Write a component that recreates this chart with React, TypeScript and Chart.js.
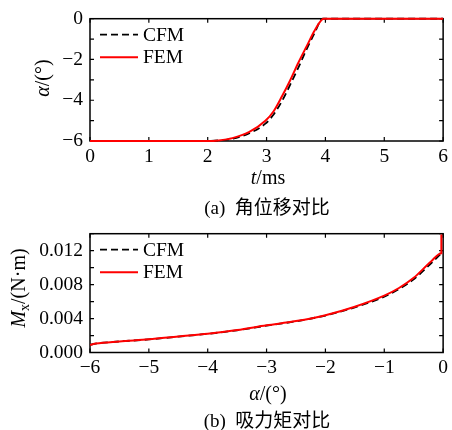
import React, { useEffect, useRef } from 'react';
import { Chart, registerables } from 'chart.js';

Chart.register(...registerables);

const SERIF = "'Liberation Serif', 'Times New Roman', serif";
const CAPTION_FONT = "'Liberation Serif', 'Noto Sans CJK SC', serif";

// ---- (a) angular displacement vs time ----
const SERIES_LABELS = ['CFM', 'FEM'];
const A_T_CFM = [0, 1, 2.0, 2.2, 2.4, 2.7, 2.98, 3.12, 3.26, 3.4, 3.54, 3.68, 3.82, 3.95, 5, 6];
const A_ALPHA_CFM = [-6, -6, -6, -5.97, -5.9, -5.63, -5.15, -4.7, -4.05, -3.25, -2.4, -1.5, -0.68, 0, 0, 0];
const A_T_FEM = [0, 1, 2.0, 2.19, 2.42, 2.7, 2.98, 3.12, 3.26, 3.4, 3.54, 3.68, 3.82, 3.97, 5, 6];
const A_ALPHA_FEM = [-6, -6, -6, -5.97, -5.86, -5.57, -5.01, -4.54, -3.82, -3.03, -2.16, -1.36, -0.57, 0, 0, 0];

// ---- (b) attraction torque vs angle ----
const B_ALPHA_CFM = [-6, -5.9, -5.5, -5, -4.5, -4, -3.5, -3, -2.5, -2, -1.5, -1, -0.75, -0.5, -0.25, 0];
const B_M_CFM = [0.0009, 0.00105, 0.0013, 0.00154, 0.00187, 0.0022, 0.00262, 0.00317, 0.00368, 0.00436, 0.00532, 0.00658, 0.00748, 0.00862, 0.0102, 0.0119];
const B_ALPHA_FEM = [-6, -5.9, -5.5, -5, -4.5, -4, -3.5, -3, -2.5, -2, -1.5, -1, -0.75, -0.5, -0.21, -0.03, -0.03];
const B_M_FEM = [0.0009, 0.00105, 0.0013, 0.00155, 0.00188, 0.0022, 0.00264, 0.0032, 0.0037, 0.0044, 0.0054, 0.0067, 0.0076, 0.0088, 0.0107, 0.0117, 0.0139];

const CFM_COLOR = '#000000';
const FEM_COLOR = '#ff0000';

const minus = (v: number) => String(v).replace('-', '\u2212');

const toPts = (xs: number[], ys: number[]) => xs.map((x, i) => ({ x, y: ys[i] }));

const boxPlugin = {
  id: 'boxFrame',
  beforeDatasetsDraw(chart: any) {
    const { ctx, chartArea: a, scales } = chart;
    const L = 4;
    ctx.save();
    ctx.strokeStyle = '#000';
    ctx.lineWidth = 1.2;
    ctx.beginPath();
    for (const t of scales.x.ticks) {
      const p = scales.x.getPixelForValue(t.value);
      ctx.moveTo(p, a.bottom); ctx.lineTo(p, a.bottom - L);
      ctx.moveTo(p, a.top); ctx.lineTo(p, a.top + L);
    }
    for (const t of scales.y.ticks) {
      const p = scales.y.getPixelForValue(t.value);
      ctx.moveTo(a.left, p); ctx.lineTo(a.left + L, p);
      ctx.moveTo(a.right, p); ctx.lineTo(a.right - L, p);
    }
    ctx.stroke();
    ctx.lineWidth = 1.5;
    ctx.strokeRect(a.left, a.top, a.right - a.left, a.bottom - a.top);
    ctx.restore();
  },
  afterDatasetsDraw(chart: any) {
    const { ctx, chartArea: a } = chart;
    ctx.save();
    chart.data.datasets.forEach((ds: any, i: number) => {
      const y = a.top + 16 + i * 22.5;
      ctx.beginPath();
      ctx.strokeStyle = ds.borderColor;
      ctx.lineWidth = ds.borderWidth;
      ctx.setLineDash(ds.borderDash || []);
      ctx.moveTo(a.left + 10, y);
      ctx.lineTo(a.left + 48, y);
      ctx.stroke();
      ctx.setLineDash([]);
      ctx.fillStyle = '#000';
      ctx.font = `19.5px ${SERIF}`;
      ctx.textBaseline = 'middle';
      ctx.textAlign = 'left';
      ctx.fillText(ds.label, a.left + 53, y + 1);
    });
    ctx.restore();
  },
};

function makeConfig(opts: {
  cfm: { x: number; y: number }[];
  fem: { x: number; y: number }[];
  xMin: number; xMax: number; xStep: number;
  yMin: number; yMax: number; yStep: number;
  yFmt: (v: number) => string;
  padTop: number; xH: number;
}): any {
  return {
    type: 'line',
    data: {
      datasets: [
        {
          label: SERIES_LABELS[0], data: opts.cfm, borderColor: CFM_COLOR, borderWidth: 1.8,
          borderDash: [7, 4], pointRadius: 0, fill: false, order: 1, clip: 4,
          cubicInterpolationMode: 'monotone',
        },
        {
          label: SERIES_LABELS[1], data: opts.fem, borderColor: FEM_COLOR, borderWidth: 2,
          pointRadius: 0, fill: false, order: 0, clip: 4,
          cubicInterpolationMode: 'monotone',
        },
      ],
    },
    options: {
      animation: false,
      responsive: false,
      devicePixelRatio: 1,
      layout: { padding: { left: 0, right: 6, top: opts.padTop, bottom: 0 } },
      plugins: { legend: { display: false }, tooltip: { enabled: false } },
      scales: {
        x: {
          type: 'linear', min: opts.xMin, max: opts.xMax,
          grid: { display: false, drawTicks: false },
          border: { display: false },
          ticks: {
            stepSize: opts.xStep, color: '#000', padding: 4,
            font: { family: SERIF, size: 19.5 },
            callback: (v: number) => minus(v),
            maxRotation: 0, autoSkip: false,
          },
          afterFit: (s: any) => { s.height = opts.xH; },
        },
        y: {
          type: 'linear', min: opts.yMin, max: opts.yMax,
          grid: { display: false, drawTicks: false },
          border: { display: false },
          ticks: {
            stepSize: opts.yStep, color: '#000', padding: 7,
            font: { family: SERIF, size: 19.5 },
            callback: (v: number) => opts.yFmt(v),
            autoSkip: false,
          },
          afterFit: (s: any) => { s.width = 90; },
        },
      },
    },
    plugins: [boxPlugin],
  };
}

const abs = (left: number, top: number, extra: React.CSSProperties = {}): React.CSSProperties => ({
  position: 'absolute', left, top, transform: 'translate(-50%, -50%)', whiteSpace: 'nowrap',
  fontFamily: SERIF, fontSize: 20, color: '#000', lineHeight: 1, ...extra,
});

export default function App() {
  const refA = useRef<HTMLCanvasElement>(null);
  const refB = useRef<HTMLCanvasElement>(null);

  useEffect(() => {
    const chartA = new Chart(refA.current as HTMLCanvasElement, makeConfig({
      cfm: toPts(A_T_CFM, A_ALPHA_CFM),
      fem: toPts(A_T_FEM, A_ALPHA_FEM),
      xMin: 0, xMax: 6, xStep: 1,
      yMin: -6, yMax: 0, yStep: 1,
      yFmt: (v) => (Math.round(v) % 2 === 0 ? minus(Math.round(v)) : ''),
      padTop: 15, xH: 74,
    }));
    const chartB = new Chart(refB.current as HTMLCanvasElement, makeConfig({
      cfm: toPts(B_ALPHA_CFM, B_M_CFM),
      fem: toPts(B_ALPHA_FEM, B_M_FEM),
      xMin: -6, xMax: 0, xStep: 1,
      yMin: 0, yMax: 0.014, yStep: 0.002,
      yFmt: (v) => {
        const k = Math.round(v / 0.002);
        return k % 2 === 0 ? (k * 0.002).toFixed(3) : '';
      },
      padTop: 9, xH: 77.5,
    }));
    return () => { chartA.destroy(); chartB.destroy(); };
  }, []);

  return (
    <div style={{ position: 'absolute', left: 0, top: 0, width: 452, height: 430, background: '#fff', overflow: 'hidden' }}>
      <canvas ref={refA} width={452} height={215} style={{ position: 'absolute', left: 0, top: 0 }} />
      <canvas ref={refB} width={452} height={215} style={{ position: 'absolute', left: 0, top: 215 }} />

      <div style={abs(42, 78, { transform: 'translate(-50%, -50%) rotate(-90deg)' })}>
        <i>α</i>/(°)
      </div>
      <div style={abs(268, 177)}><i>t</i>/ms</div>
      <div style={abs(267, 207, { fontFamily: CAPTION_FONT, fontSize: 19 })}>(a)&nbsp;&nbsp;角位移对比</div>

      <div style={abs(20, 288, { transform: 'translate(-50%, -50%) rotate(-90deg)' })}>
        <i>M</i><sub style={{ fontSize: 14, verticalAlign: '-0.25em' }}>x</sub>/(N·m)
      </div>
      <div style={abs(268, 393)}><i>α</i>/(°)</div>
      <div style={abs(267, 420, { fontFamily: CAPTION_FONT, fontSize: 19 })}>(b)&nbsp;&nbsp;吸力矩对比</div>
    </div>
  );
}
